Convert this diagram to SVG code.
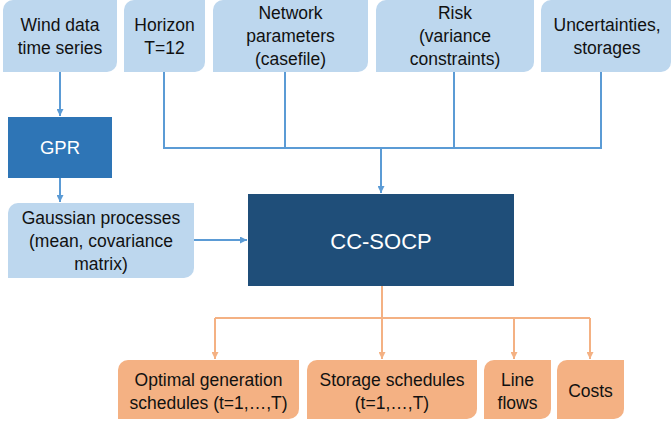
<svg xmlns="http://www.w3.org/2000/svg" width="671" height="423" viewBox="0 0 671 423">
<defs>
<marker id="ab" viewBox="0 0 10 10" refX="10" refY="5" markerWidth="7" markerHeight="7" markerUnits="userSpaceOnUse" orient="auto"><path d="M0,0 L10,5 L0,10 z" fill="#5B9BD5"/></marker>
<marker id="ao" viewBox="0 0 10 10" refX="10" refY="5" markerWidth="7" markerHeight="7" markerUnits="userSpaceOnUse" orient="auto"><path d="M0,0 L10,5 L0,10 z" fill="#F4B183"/></marker>
<style>
.lb{fill:#BDD7EE}
.or{fill:#F4B183}
.t{font-family:"Liberation Sans",Arial,sans-serif;font-size:17.5px;fill:#111;text-anchor:middle}
.w{font-family:"Liberation Sans",Arial,sans-serif;fill:#fff;text-anchor:middle}
.cb{stroke:#5B9BD5;stroke-width:2;fill:none}
.co{stroke:#F4B183;stroke-width:2;fill:none}
</style>
</defs>
<rect width="671" height="423" fill="#fff"/>
<g id="connectors">
<path class="cb" d="M60,72 V116" marker-end="url(#ab)"/>
<path class="cb" d="M60,178 V202" marker-end="url(#ab)"/>
<path class="cb" d="M194,240 H247" marker-end="url(#ab)"/>
<path class="cb" d="M164,72 V148 H601 V72 M285,72 V148 M454,72 V148"/>
<path class="cb" d="M381,148 V193" marker-end="url(#ab)"/>
<path class="co" d="M382,286 V318 M215,318 H590"/>
<path class="co" d="M215,318 V359" marker-end="url(#ao)"/>
<path class="co" d="M382,318 V359" marker-end="url(#ao)"/>
<path class="co" d="M514,318 V359" marker-end="url(#ao)"/>
<path class="co" d="M590,318 V359" marker-end="url(#ao)"/>
</g>
<g id="wind">
<path class="lb" d="M13,0 H117 V62 A10,10 0 0 1 107,72 H3 V10 A10,10 0 0 1 13,0 Z"/>
<text class="t" x="60" y="31">Wind data</text>
<text class="t" x="60" y="54">time series</text>
</g>
<g id="horizon">
<path class="lb" d="M134,0 H205 V62 A10,10 0 0 1 195,72 H124 V10 A10,10 0 0 1 134,0 Z"/>
<text class="t" x="164.5" y="31">Horizon</text>
<text class="t" x="164.5" y="54">T=12</text>
</g>
<g id="network">
<path class="lb" d="M223,0 H368 V62 A10,10 0 0 1 358,72 H213 V10 A10,10 0 0 1 223,0 Z"/>
<text class="t" x="290.5" y="19">Network</text>
<text class="t" x="290.5" y="42">parameters</text>
<text class="t" x="290.5" y="65">(casefile)</text>
</g>
<g id="risk">
<path class="lb" d="M386,0 H534 V62 A10,10 0 0 1 524,72 H376 V10 A10,10 0 0 1 386,0 Z"/>
<text class="t" x="455" y="19">Risk</text>
<text class="t" x="455" y="42">(variance</text>
<text class="t" x="455" y="65">constraints)</text>
</g>
<g id="uncert">
<path class="lb" d="M551,0 H671 V62 A10,10 0 0 1 661,72 H541 V10 A10,10 0 0 1 551,0 Z"/>
<text class="t" x="607" y="31">Uncertainties,</text>
<text class="t" x="607" y="54">storages</text>
</g>
<g id="gpr">
<rect x="8" y="117" width="104" height="61" fill="#2E75B6"/>
<text class="w" x="60" y="154" font-size="18.5">GPR</text>
</g>
<g id="gauss">
<path class="lb" d="M18,203 H194 V268 A10,10 0 0 1 184,278 H8 V213 A10,10 0 0 1 18,203 Z"/>
<text class="t" x="101" y="224">Gaussian processes</text>
<text class="t" x="101" y="247">(mean, covariance</text>
<text class="t" x="101" y="270">matrix)</text>
</g>
<g id="ccsocp">
<rect x="248" y="194" width="266" height="92" fill="#1F4E79"/>
<text class="w" x="381" y="249" font-size="22">CC-SOCP</text>
</g>
<g id="optgen">
<path class="or" d="M128,360 H299 V409 A10,10 0 0 1 289,419 H118 V370 A10,10 0 0 1 128,360 Z"/>
<text class="t" x="208.5" y="386">Optimal generation</text>
<text class="t" x="208.5" y="409">schedules (t=1,…,T)</text>
</g>
<g id="storage">
<path class="or" d="M317,360 H477 V409 A10,10 0 0 1 467,419 H307 V370 A10,10 0 0 1 317,360 Z"/>
<text class="t" x="392" y="386">Storage schedules</text>
<text class="t" x="392" y="409">(t=1,…,T)</text>
</g>
<g id="lineflows">
<path class="or" d="M494,360 H551 V409 A10,10 0 0 1 541,419 H484 V370 A10,10 0 0 1 494,360 Z"/>
<text class="t" x="517.5" y="386">Line</text>
<text class="t" x="517.5" y="409">flows</text>
</g>
<g id="costs">
<path class="or" d="M567,360 H624 V409 A10,10 0 0 1 614,419 H557 V370 A10,10 0 0 1 567,360 Z"/>
<text class="t" x="590.5" y="397">Costs</text>
</g>
</svg>
